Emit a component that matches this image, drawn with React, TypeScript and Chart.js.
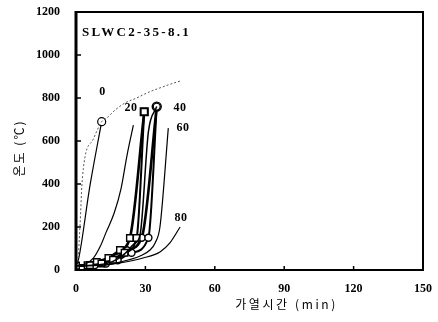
import React, { useEffect, useRef } from "react";
import { Chart, registerables } from "chart.js";

Chart.register(...registerables);

// ---- data (minutes, °C) ----
const xTicks = [0, 30, 60, 90, 120, 150];
const yTicks = [0, 200, 400, 600, 800, 1000, 1200];

const furnaceT = [0, 1, 1.4, 2, 2.5, 3.9, 7.3, 11.1, 13.3, 17, 21.2, 26.2, 31, 36.3, 41, 45];
const furnaceC = [20, 60, 140, 265, 386, 526, 605, 690, 707, 745, 777, 800, 825, 847, 865, 879];

const surfT = [0, 1, 6, 11.1];
const surfC = [20, 45, 390, 690];

const d20T = [0, 4, 7.5, 10.5, 13, 16.5, 19.5, 22, 24.8];
const d20C = [20, 28, 55, 110, 175, 265, 380, 530, 674];

const sqAT = [0, 5, 9, 14, 19, 23.3, 29.5];
const sqAC = [20, 22, 37, 56, 93, 149, 736];
const sqBT = [0, 6, 11, 16, 21, 26.2, 29.5];
const sqBC = [20, 22, 30, 48, 80, 149, 736];

const ciAT = [0, 7, 12, 17.6, 22, 28.4, 34.9];
const ciAC = [20, 22, 32, 55, 92, 150, 760];
const ciBT = [0, 8, 13, 18, 24, 31.3, 34.9];
const ciBC = [20, 22, 30, 45, 80, 150, 760];

const d40T = [0, 10, 16, 21, 25, 27.7, 31.3, 34.9];
const d40C = [20, 24, 40, 75, 120, 163, 643, 760];

const d60T = [0, 10.4, 19, 27.7, 32, 34.2, 36.3, 39.9];
const d60C = [20, 22, 37, 65, 93, 126, 201, 660];

const d80T = [0, 10.4, 19, 29, 36.3, 40.6, 45];
const d80C = [20, 21, 33, 56, 84, 126, 200];

const curveLabels = ["0", "20", "40", "60", "80"];
const curveLabelT = [11.5, 23.8, 45, 46.3, 45.4];
const curveLabelC = [828, 753, 753, 660, 242];

const specimen = "SLWC2-35-8.1";
const xTitle = "가열시간 (min)";
const yTitle = "온도 (℃)";

const pts = (t: number[], c: number[]) => t.map((v, i) => ({ x: v, y: c[i] }));

const SERIF = '"Liberation Serif", "DejaVu Serif", serif';
const KR = '"Noto Sans CJK KR", "Noto Sans", sans-serif';

const decor = {
  id: "decor",
  afterDraw(chart: any) {
    const { ctx, chartArea: a, scales } = chart;
    const xs = scales.x, ys = scales.y;
    ctx.save();
    ctx.strokeStyle = "#000";
    ctx.lineWidth = 2;
    ctx.strokeRect(a.left, a.top, a.right - a.left, a.bottom - a.top);
    ctx.lineWidth = 3;
    ctx.beginPath();
    ctx.moveTo(a.left, a.top - 1);
    ctx.lineTo(a.left, a.bottom + 1);
    ctx.stroke();
    ctx.lineWidth = 1.5;
    ctx.beginPath();
    yTicks.forEach((v) => {
      const y = ys.getPixelForValue(v);
      ctx.moveTo(a.left, y);
      ctx.lineTo(a.left + 5, y);
    });
    xTicks.forEach((v) => {
      const x = xs.getPixelForValue(v);
      ctx.moveTo(x, a.bottom);
      ctx.lineTo(x, a.bottom - 4);
    });
    ctx.stroke();

    // specimen title
    ctx.fillStyle = "#000";
    ctx.font = `bold 13px ${SERIF}`;
    (ctx as any).letterSpacing = "2.3px";
    ctx.textAlign = "left";
    ctx.textBaseline = "middle";
    ctx.fillText(specimen, a.left + 6, a.top + 21);

    // curve labels
    (ctx as any).letterSpacing = "0.5px";
    ctx.font = `bold 12px ${SERIF}`;
    ctx.textAlign = "center";
    curveLabels.forEach((s, i) => {
      ctx.fillText(s, xs.getPixelForValue(curveLabelT[i]), ys.getPixelForValue(curveLabelC[i]));
    });

    // axis titles
    ctx.font = `12px ${KR}`;
    (ctx as any).letterSpacing = "2.6px";
    ctx.textAlign = "center";
    ctx.fillText(xTitle, xs.getPixelForValue(91), 304);
    ctx.save();
    (ctx as any).letterSpacing = "2px";
    ctx.translate(19, 148);
    ctx.rotate(-Math.PI / 2);
    ctx.fillText(yTitle, 0, 0);
    ctx.restore();
    ctx.restore();
  },
};

export default function App() {
  const ref = useRef<HTMLCanvasElement>(null);
  useEffect(() => {
    const thin = (t: number[], c: number[], extra: any = {}) => ({
      data: pts(t, c),
      borderColor: "#000",
      borderWidth: 1.2,
      pointRadius: 0,
      cubicInterpolationMode: "monotone",
      fill: false,
      ...extra,
    });
    const chart = new Chart(ref.current!, {
      type: "line",
      data: {
        datasets: [
          thin(furnaceT, furnaceC, { borderColor: "#555", borderWidth: 1, borderDash: [2, 2] }),
          thin(surfT, surfC, {
            pointRadius: (c: any) => (c.dataIndex === surfT.length - 1 ? 4 : 0),
            pointBackgroundColor: "#fff",
            pointBorderColor: "#000",
            pointBorderWidth: 1.2,
          }),
          thin(d20T, d20C),
          thin(d40T, d40C, { borderWidth: 1.5 }),
          thin(d60T, d60C),
          thin(d80T, d80C),
          thin(sqBT, sqBC, {
            borderWidth: 2,
            pointStyle: "rect",
            pointRadius: 4.6,
            pointBackgroundColor: "#fff",
            pointBorderColor: "#000",
            pointBorderWidth: 1.4,
          }),
          thin(sqAT, sqAC, {
            borderWidth: 2.6,
            pointStyle: "rect",
            pointRadius: (c: any) => (c.dataIndex === sqAT.length - 1 ? 5.5 : 4.6),
            pointBackgroundColor: "#fff",
            pointBorderColor: "#000",
            pointBorderWidth: 1.4,
          }),
          thin(ciBT, ciBC, {
            borderWidth: 2,
            pointStyle: "circle",
            pointRadius: 3.5,
            pointBackgroundColor: "#fff",
            pointBorderColor: "#000",
            pointBorderWidth: 1.4,
          }),
          thin(ciAT, ciAC, {
            borderWidth: 2.6,
            pointStyle: "circle",
            pointRadius: (c: any) => (c.dataIndex === ciAT.length - 1 ? 4.5 : 3.5),
            pointBackgroundColor: "#fff",
            pointBorderColor: "#000",
            pointBorderWidth: 1.4,
          }),
        ],
      },
      options: {
        animation: false,
        responsive: false,
        layout: { padding: { top: 12, right: 15, left: 0, bottom: 0 } },
        plugins: { legend: { display: false }, tooltip: { enabled: false }, title: { display: false } },
        scales: {
          x: {
            type: "linear",
            min: 0,
            max: 150,
            afterFit: (s: any) => { s.height = 52; s.paddingLeft = 0; s.paddingRight = 0; s.paddingTop = 0; s.paddingBottom = 0; },
            afterBuildTicks: (s: any) => { s.ticks = xTicks.map((v) => ({ value: v })); },
            grid: { display: false, drawTicks: false },
            border: { display: false },
            ticks: { padding: 12, color: "#000", font: { family: SERIF, size: 12, weight: "bold" }, callback: (v: any) => String(v) },
          },
          y: {
            type: "linear",
            min: 0,
            max: 1200,
            afterFit: (s: any) => { s.width = 76; s.paddingTop = 0; s.paddingBottom = 0; s.paddingLeft = 0; s.paddingRight = 0; },
            afterBuildTicks: (s: any) => { s.ticks = yTicks.map((v) => ({ value: v })); },
            grid: { display: false, drawTicks: false },
            border: { display: false },
            ticks: { padding: 16, color: "#000", font: { family: SERIF, size: 12, weight: "bold" }, callback: (v: any) => String(v) },
          },
        },
      } as any,
      plugins: [decor],
    });
    return () => chart.destroy();
  }, []);
  return (
    <div style={{ position: "absolute", left: 0, top: 0, width: 438, height: 322, background: "#fff" }}>
      <canvas ref={ref} width={438} height={322} style={{ display: "block" }} />
    </div>
  );
}
